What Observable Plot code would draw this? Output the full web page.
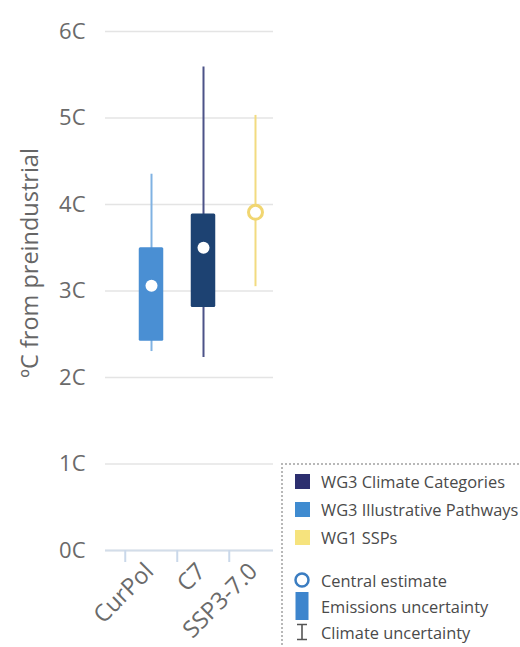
<!DOCTYPE html>
<html>
<head>
<meta charset="utf-8">
<script src="https://cdn.jsdelivr.net/npm/d3@7"></script>
<script src="https://cdn.jsdelivr.net/npm/@observablehq/plot@0.6"></script>
<style>
  body { margin: 0; background: #fff; font-family: "Open Sans", sans-serif; }
  #wrap { position: relative; width: 520px; height: 647px; overflow: hidden; background: #fff; }
  .legend {
    position: absolute; left: 281px; top: 463px; width: 260px; height: 200px;
    border-left: 2px dotted #b8b8b8; border-top: 2px dotted #b8b8b8;
    font-size: 16.4px; color: #4a4a4a;
  }
  .row { position: absolute; left: 0; display: flex; align-items: center; height: 28px; }
  .row .sym { width: 38px; display: flex; justify-content: center; align-items: center; }
  .row .lab { white-space: nowrap; }
  .sq { width: 15px; height: 15px; }
</style>
</head>
<body>
<div id="wrap"></div>
<script>
// Scenarios shown on the x axis and the report group each one belongs to
const scenarios = ["CurPol", "C7", "SSP3-7.0"];
const groups = ["WG3 Illustrative Pathways", "WG3 Climate Categories", "WG1 SSPs"];

// Warming in 2100, degrees C above preindustrial
const central = [3.06, 3.5, 3.91];
const emissionsLow = [2.42, 2.81, null];
const emissionsHigh = [3.5, 3.89, null];
const climateLow = [2.3, 2.23, 3.05];
const climateHigh = [4.35, 5.59, 5.03];

const yTicks = [0, 1, 2, 3, 4, 5, 6];

// Legend entries
const groupLegend = ["WG3 Climate Categories", "WG3 Illustrative Pathways", "WG1 SSPs"];
const symbolLegend = ["Central estimate", "Emissions uncertainty", "Climate uncertainty"];

// Styling per group
const boxColor = {"WG3 Illustrative Pathways": "#4a8fd3", "WG3 Climate Categories": "#1d4272", "WG1 SSPs": "#f1d671"};
const whiskerColor = {"WG3 Illustrative Pathways": "#80b2e2", "WG3 Climate Categories": "#4c5388", "WG1 SSPs": "#f2db80"};
const swatchColor = {"WG3 Climate Categories": "#2c2f6f", "WG3 Illustrative Pathways": "#3f8bd0", "WG1 SSPs": "#f6e37d"};

const rows = scenarios.map((s, i) => ({
  scenario: s, group: groups[i], central: central[i],
  eLo: emissionsLow[i], eHi: emissionsHigh[i],
  cLo: climateLow[i], cHi: climateHigh[i]
}));
const boxed = rows.filter(d => d.eLo != null);
const unboxed = rows.filter(d => d.eLo == null);

const xRange = [123.75, 281.25];
const bandwidth = (xRange[1] - xRange[0]) / scenarios.length;
const boxWidth = 25;
const inset = (bandwidth - boxWidth) / 2;

const chart = Plot.plot({
  width: 520,
  height: 647,
  marginTop: 31,
  marginBottom: 97,
  marginLeft: 105,
  marginRight: 247,
  style: {fontFamily: "Open Sans, sans-serif", background: "#fff"},
  x: {type: "band", domain: scenarios, range: xRange, padding: 0},
  y: {domain: [0, 6]},
  color: {type: "identity"},
  marks: [
    Plot.gridY(yTicks, {stroke: "#e4e4e4", strokeOpacity: 1, strokeWidth: 1.5}),
    Plot.ruleY([0], {stroke: "#d3dde9", strokeWidth: 2}),
    // small boundary ticks between categories
    Plot.ruleX(scenarios, {x: d => d, y1: 0, y2: 0, insetBottom: -12, dx: -bandwidth / 2, stroke: "#cad8ea", strokeWidth: 2}),
    Plot.axisY(yTicks, {tickSize: 0, tickPadding: 20, tickFormat: d => d + "C", fontSize: 22, fill: "#6a6a6a", label: null}),
    Plot.axisX({tickSize: 0, tickPadding: 17, tickRotate: -45, fontSize: 23.5, fill: "#6a6a6a", label: null, dx: -2}),
    Plot.text(["ºC from preindustrial"], {frameAnchor: "left", textAnchor: "middle", rotate: -90, dx: -75, dy: -28, fontSize: 23.5, fill: "#666"}),
    // climate uncertainty
    Plot.ruleX(rows, {x: "scenario", y1: "cLo", y2: "cHi", stroke: d => whiskerColor[d.group], strokeWidth: 2}),
    // emissions uncertainty
    Plot.barY(boxed, {x: "scenario", y1: "eLo", y2: "eHi", fill: d => boxColor[d.group], insetLeft: inset, insetRight: inset, rx: 1.5}),
    // central estimates
    Plot.dot(boxed, {x: "scenario", y: "central", r: 6, fill: "#fff", stroke: "none"}),
    Plot.dot(unboxed, {x: "scenario", y: "central", r: 7, fill: "#fff", stroke: d => boxColor[d.group], strokeWidth: 3})
  ]
});

const wrap = document.getElementById("wrap");
wrap.appendChild(chart);

// Legend
const legend = document.createElement("div");
legend.className = "legend";
const rowTops = [2, 30, 58, 101, 127, 153];
const items = [];
groupLegend.forEach(g => items.push({label: g, sym: `<div class="sq" style="background:${swatchColor[g]}"></div>`}));
items.push({label: symbolLegend[0], sym: `<svg width="18" height="18"><circle cx="9" cy="9" r="6.5" fill="#fff" stroke="#3b7dc1" stroke-width="2.5"/></svg>`});
items.push({label: symbolLegend[1], sym: `<svg width="14" height="28"><rect x="0.5" y="0" width="13" height="28" fill="#3d85cd"/></svg>`});
items.push({label: symbolLegend[2], sym: `<svg width="14" height="18"><path d="M2,1.5H12M7,1.5V16.5M2,16.5H12" stroke="#555" stroke-width="1.6" fill="none"/></svg>`});
items.forEach((it, i) => {
  const r = document.createElement("div");
  r.className = "row";
  r.style.top = rowTops[i] + "px";
  r.innerHTML = `<div class="sym">${it.sym}</div><div class="lab">${it.label}</div>`;
  legend.appendChild(r);
});
wrap.appendChild(legend);
</script>
</body>
</html>
